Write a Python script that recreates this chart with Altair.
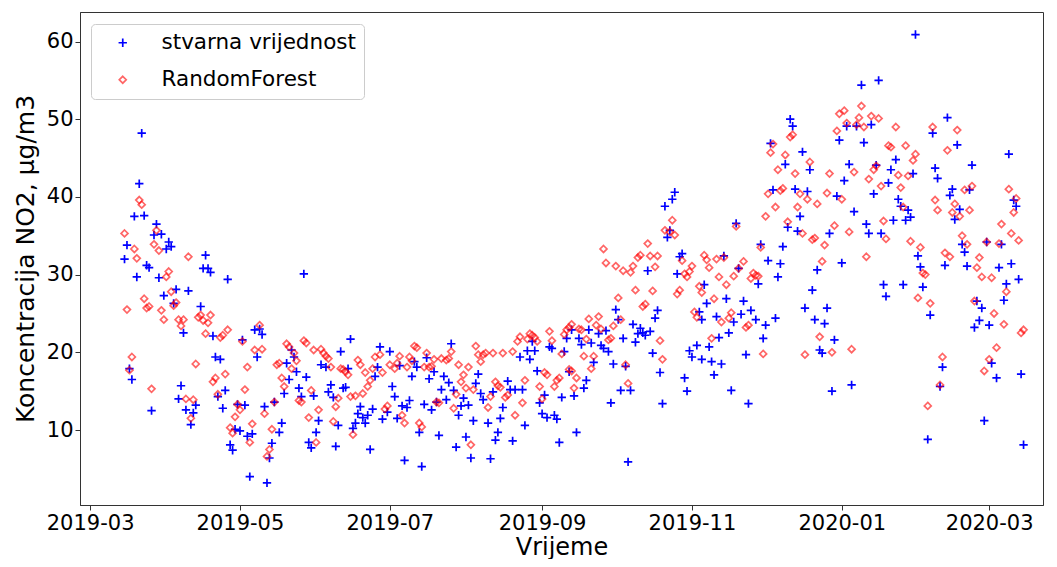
import altair as alt
import pandas as pd

START = pd.Timestamp("2019-03-01")
series_names = ["stvarna vrijednost", "RandomForest"]

# (day offset from 2019-03-01, value)
blue_points = [(14,32.0),(15,33.8),(16,17.9),(17,16.5),(18,37.5),(19,29.7),(20,41.7),(21,48.2),(22,37.6),(23,31.2),(24,30.9),(25,12.5),(26,35.1),(27,36.5),(28,29.6),(29,35.2),(30,27.3),(31,33.3),(32,34.2),(33,33.6),(34,26.3),(35,28.1),(36,14.0),(37,15.7),(38,22.5),(39,12.6),(40,27.9),(41,10.7),(42,12.2),(43,13.2),(45,25.9),(46,30.8),(47,32.5),(48,30.8),(49,30.3),(50,22.1),(51,19.4),(52,14.3),(53,19.1),(54,12.8),(55,15.1),(56,29.4),(57,8.1),(58,7.4),(59,10.1),(60,13.3),(61,9.9),(62,21.6),(63,13.2),(64,9.2),(65,4.0),(66,9.5),(67,22.9),(68,19.4),(69,23.0),(70,22.3),(71,13.0),(72,3.2),(73,6.4),(74,8.3),(75,13.6),(77,9.7),(78,10.9),(79,14.7),(80,18.6),(81,16.5),(82,20.3),(83,19.4),(84,17.5),(85,15.4),(86,14.3),(87,30.1),(88,16.8),(89,8.4),(90,7.7),(91,14.4),(92,9.7),(93,11.2),(94,18.4),(96,18.1),(97,14.9),(98,15.8),(99,14.2),(100,7.9),(101,10.6),(102,20.1),(103,15.4),(104,15.5),(105,17.9),(106,21.7),(107,10.2),(108,10.9),(109,12.1),(110,13.0),(111,11.6),(112,10.9),(113,11.9),(114,7.5),(115,12.7),(116,16.9),(117,18.1),(118,20.7),(119,11.4),(121,12.3),(122,20.1),(123,15.6),(124,14.3),(125,11.5),(126,18.3),(127,13.1),(128,6.1),(129,12.9),(130,13.8),(131,16.9),(132,18.8),(133,18.1),(134,9.7),(135,5.3),(136,13.3),(137,19.3),(138,16.6),(139,12.6),(140,17.5),(141,13.6),(142,9.3),(143,15.2),(144,16.9),(145,13.9),(146,16.1),(147,21.1),(148,15.1),(149,7.8),(150,11.9),(151,13.1),(152,14.1),(153,9.1),(154,13.2),(155,6.4),(156,11.2),(157,16.0),(158,17.2),(159,14.7),(160,13.9),(162,10.9),(163,6.3),(164,14.9),(165,8.7),(166,9.7),(167,11.5),(168,12.9),(170,16.3),(171,15.2),(172,8.6),(173,15.2),(175,19.4),(176,15.2),(177,10.6),(178,20.2),(179,19.1),(180,21.4),(181,20.2),(182,17.6),(183,13.5),(184,12.1),(185,14.5),(186,11.6),(187,20.7),(188,20.5),(189,11.9),(190,11.4),(191,8.4),(192,14.2),(193,20.1),(194,21.8),(195,17.5),(196,22.9),(197,14.4),(198,9.7),(199,21.8),(200,21.0),(201,15.4),(202,16.4),(203,22.9),(204,21.2),(205,18.7),(207,22.4),(208,20.9),(209,20.5),(210,22.8),(211,20.1),(212,13.5),(213,18.5),(214,25.5),(215,24.2),(216,15.1),(217,21.8),(218,18.2),(219,5.9),(220,15.1),(221,23.6),(222,21.3),(223,22.4),(224,23.1),(225,22.5),(226,22.2),(227,30.5),(228,22.7),(229,19.9),(230,24.4),(231,25.4),(232,17.4),(233,13.4),(234,38.8),(235,34.8),(236,35.7),(237,39.7),(238,40.6),(239,30.1),(240,32.3),(241,32.7),(242,16.7),(243,15.0),(244,20.2),(245,19.4),(247,20.9),(248,25.2),(249,19.1),(249,24.2),(250,28.7),(251,26.3),(252,20.7),(253,18.8),(254,17.1),(255,24.6),(256,21.9),(257,18.5),(258,32.4),(259,26.9),(260,22.5),(261,15.1),(262,23.9),(263,36.6),(264,30.8),(265,24.9),(266,26.6),(267,19.7),(268,13.4),(269,25.4),(271,24.2),(272,28.8),(273,33.9),(274,21.8),(275,23.5),(276,31.8),(277,46.9),(278,40.9),(279,24.4),(280,29.7),(281,31.4),(282,33.6),(283,44.2),(284,36.1),(285,50.0),(286,49.1),(287,41.0),(288,35.6),(289,37.5),(290,45.8),(291,25.7),(292,40.7),(293,43.5),(294,28.0),(295,24.2),(296,30.6),(297,20.3),(298,19.9),(299,23.7),(300,25.7),(301,35.3),(302,15.0),(303,21.6),(304,40.1),(305,47.3),(306,31.5),(307,42.1),(308,49.1),(309,44.2),(310,15.8),(311,38.1),(312,49.1),(314,54.4),(315,47.0),(316,36.5),(317,35.3),(318,49.3),(319,40.4),(320,44.1),(321,55.0),(322,35.3),(323,28.7),(324,27.2),(325,41.8),(326,43.5),(327,37.0),(328,44.8),(329,39.7),(330,38.8),(331,28.7),(332,37.0),(333,38.3),(334,37.4),(335,43.0),(336,60.9),(337,32.4),(338,31.0),(339,28.4),(341,8.8),(342,24.8),(343,48.2),(344,43.7),(345,42.4),(346,15.6),(347,18.1),(348,31.2),(349,50.2),(350,40.2),(351,41.0),(352,37.1),(353,46.7),(354,38.4),(355,33.9),(356,32.9),(357,31.1),(358,40.9),(359,44.1),(360,23.2),(361,26.6),(362,24.1),(363,25.7),(364,11.2),(365,34.2),(366,23.5),(367,18.6),(369,16.7),(370,30.9),(371,33.9),(372,26.7),(373,28.8),(374,45.5),(375,31.4),(376,39.6),(377,38.8),(378,29.4),(379,17.2),(380,8.1)]

red_points = [(14,35.3),(15,25.5),(16,17.7),(17,19.4),(18,33.3),(19,32.1),(20,39.6),(21,39.0),(22,26.9),(23,25.7),(24,25.9),(25,15.3),(26,33.9),(27,35.7),(28,33.1),(29,25.4),(30,24.2),(31,29.7),(32,30.4),(33,27.8),(34,26.0),(35,26.4),(36,24.2),(37,23.4),(38,24.2),(39,14.0),(40,32.3),(41,11.5),(42,13.9),(43,18.5),(44,24.5),(45,24.8),(46,24.1),(47,22.4),(48,23.8),(49,24.8),(50,16.2),(51,16.7),(52,14.6),(53,21.9),(54,22.2),(55,17.2),(56,22.9),(57,10.3),(58,9.6),(59,11.7),(60,13.3),(61,12.6),(62,21.4),(63,15.2),(64,18.1),(65,8.4),(66,10.8),(67,20.3),(69,23.5),(70,20.4),(71,12.1),(72,6.6),(73,7.5),(74,10.1),(75,13.6),(76,18.4),(77,18.6),(78,16.7),(79,15.6),(80,21.1),(81,20.7),(82,17.9),(83,19.9),(84,18.9),(85,13.8),(86,13.6),(87,21.5),(88,21.2),(89,11.6),(90,15.1),(91,20.3),(92,8.4),(93,12.6),(94,20.4),(95,19.9),(96,19.5),(97,19.2),(98,18.1),(99,11.1),(100,13.0),(101,14.1),(102,17.9),(103,17.8),(104,17.5),(105,17.1),(106,14.3),(107,9.4),(108,14.4),(109,19.0),(110,18.4),(111,14.7),(112,17.4),(113,15.6),(114,16.4),(115,17.9),(116,19.4),(118,19.7),(119,17.4),(120,12.7),(121,13.1),(122,18.4),(124,17.9),(125,18.6),(126,19.5),(127,11.9),(128,10.9),(129,18.1),(130,19.4),(131,18.9),(132,20.8),(133,20.6),(134,10.9),(135,10.4),(136,18.1),(137,19.9),(138,18.1),(139,18.2),(140,19.1),(141,13.6),(142,13.5),(143,19.2),(145,19.0),(146,19.2),(147,20.1),(148,12.8),(149,14.6),(150,18.4),(151,16.2),(152,17.1),(153,15.4),(154,18.1),(155,8.1),(156,15.2),(157,20.8),(158,19.7),(159,18.8),(160,19.7),(161,19.9),(162,12.9),(163,14.3),(164,19.9),(165,16.2),(166,15.7),(167,15.5),(168,19.9),(169,14.2),(170,14.5),(172,20.1),(173,11.9),(174,21.4),(175,22.0),(176,13.5),(177,16.4),(178,21.7),(179,22.4),(180,22.2),(181,21.9),(182,21.4),(183,15.6),(184,14.0),(185,17.4),(186,17.1),(187,22.7),(188,21.5),(189,15.6),(190,16.4),(191,16.7),(192,19.8),(193,22.3),(194,22.9),(195,17.8),(195,23.2),(196,17.6),(196,23.6),(197,15.4),(198,16.7),(199,23.0),(200,22.9),(201,19.5),(202,21.7),(203,24.3),(204,17.9),(205,19.5),(206,23.5),(207,24.6),(208,23.0),(209,33.3),(210,31.5),(211,21.6),(212,21.8),(213,23.4),(214,31.1),(215,27.0),(216,24.2),(217,30.5),(218,18.4),(219,16.0),(220,30.3),(221,31.1),(222,28.0),(223,32.2),(224,32.5),(225,25.9),(226,26.2),(227,34.0),(228,32.4),(229,27.9),(230,31.0),(231,32.4),(232,21.5),(233,19.1),(234,35.7),(236,35.5),(237,37.0),(238,35.1),(239,27.5),(240,28.0),(241,31.8),(242,30.1),(243,29.7),(244,30.4),(245,31.1),(246,25.2),(247,24.5),(248,28.5),(249,27.7),(250,32.5),(251,31.9),(252,30.9),(253,21.8),(254,26.9),(255,32.0),(256,29.7),(257,23.9),(258,32.2),(259,28.7),(260,24.4),(261,25.1),(262,29.8),(263,36.2),(264,30.8),(266,31.7),(267,23.2),(268,23.5),(269,29.5),(270,30.2),(271,29.9),(272,29.8),(273,33.5),(274,19.8),(275,37.5),(276,40.4),(277,45.7),(278,46.8),(279,38.7),(280,43.5),(281,40.8),(282,41.1),(283,45.4),(284,36.8),(285,47.7),(286,48.0),(287,43.0),(288,38.7),(289,40.4),(290,35.3),(291,19.7),(292,39.7),(293,44.5),(294,34.5),(295,34.7),(296,39.1),(297,22.0),(298,31.7),(299,33.8),(300,40.5),(301,43.0),(302,20.0),(303,36.3),(304,48.5),(305,50.7),(306,39.7),(307,51.1),(308,49.5),(309,35.5),(310,20.4),(311,43.2),(312,49.3),(313,50.2),(314,51.7),(315,49.0),(316,32.3),(317,42.3),(318,50.4),(319,43.5),(320,44.0),(321,50.1),(322,41.4),(323,36.9),(324,34.6),(325,46.6),(326,46.4),(328,49.0),(329,42.8),(330,41.2),(331,38.7),(332,46.6),(333,42.7),(334,34.3),(335,44.7),(336,45.5),(337,27.0),(338,33.5),(339,30.2),(340,30.0),(341,13.1),(342,26.3),(343,49.0),(344,39.6),(345,38.3),(346,15.8),(347,19.4),(348,32.8),(349,46.0),(350,32.3),(351,38.0),(352,39.1),(353,48.6),(354,37.5),(355,35.0),(356,40.9),(357,33.9),(358,38.3),(359,41.4),(360,26.6),(361,30.9),(362,32.2),(363,29.7),(364,17.6),(365,34.2),(366,19.1),(367,29.6),(368,25.0),(369,20.6),(370,34.0),(371,36.5),(372,23.6),(373,27.8),(374,41.0),(375,35.3),(376,38.0),(377,39.8),(378,34.4),(379,22.5),(380,22.9)]

rows = []
for name, pts in zip(series_names, [blue_points, red_points]):
    for d, v in pts:
        rows.append({
            "datum": (START + pd.Timedelta(days=d)).strftime("%Y-%m-%d"),
            "vrijednost": v,
            "serija": name,
        })
df = pd.DataFrame(rows)

plus_path = "M-1,0L1,0M0,-1L0,1"
diamond_path = "M0,-1L1,0L0,1L-1,0Z"

FONT = "DejaVu Sans"

leg = alt.Legend(
    title=None, orient="none", legendX=11, legendY=12,
    padding=8, strokeColor="#cccccc", cornerRadius=4, fillColor="white",
    labelFontSize=21.5, labelFont=FONT, labelColor="black", labelLimit=500,
    rowPadding=14, symbolOffset=13, labelOffset=28, symbolStrokeWidth=1.7,
)

tick_dates = [alt.DateTime(year=y, month=m, date=1, utc=True)
              for y, m in [(2019, 3), (2019, 5), (2019, 7), (2019, 9), (2019, 11), (2020, 1), (2020, 3)]]

chart = alt.Chart(df).mark_point(filled=False, strokeWidth=1.7).encode(
    x=alt.X("datum:T",
            scale=alt.Scale(type="utc", domain=[
                alt.DateTime(year=2019, month=2, date=24, hours=21, utc=True),
                alt.DateTime(year=2020, month=3, date=22, hours=22, utc=True)]),
            axis=alt.Axis(values=tick_dates, labelExpr="utcFormat(datum.value, '%Y-%m')",
                          title="Vrijeme", grid=False)),
    y=alt.Y("vrijednost:Q",
            scale=alt.Scale(domain=[0.35, 63.8], nice=False, zero=False),
            axis=alt.Axis(values=[10, 20, 30, 40, 50, 60], title="Koncentracija NO2, µg/m3", grid=False)),
    color=alt.Color("serija:N", scale=alt.Scale(domain=series_names, range=["#0000ff", "#ff0000"]), legend=leg),
    shape=alt.Shape("serija:N", scale=alt.Scale(domain=series_names, range=[plus_path, diamond_path]), legend=leg),
    size=alt.Size("serija:N", scale=alt.Scale(domain=series_names, range=[70, 48]), legend=leg),
    opacity=alt.Opacity("serija:N", scale=alt.Scale(domain=series_names, range=[1.0, 0.6]), legend=leg),
).properties(
    width=963, height=493,
    autosize=alt.AutoSizeParams(type="none"),
    padding={"left": 72, "top": 4, "right": 6, "bottom": 54},
).configure_view(
    stroke="#333333", strokeWidth=1
).configure_axis(
    labelFont=FONT, titleFont=FONT, labelFontSize=21, titleFontSize=24,
    labelColor="black", titleColor="black", titleFontWeight="normal",
    domainColor="#333333", tickColor="#333333", tickSize=5, labelPadding=2,
).configure_axisX(
    titlePadding=2
).configure_axisY(
    titlePadding=8, titleFontSize=25
)

chart.save("out.html", embed_options={"renderer": "svg", "actions": False})
